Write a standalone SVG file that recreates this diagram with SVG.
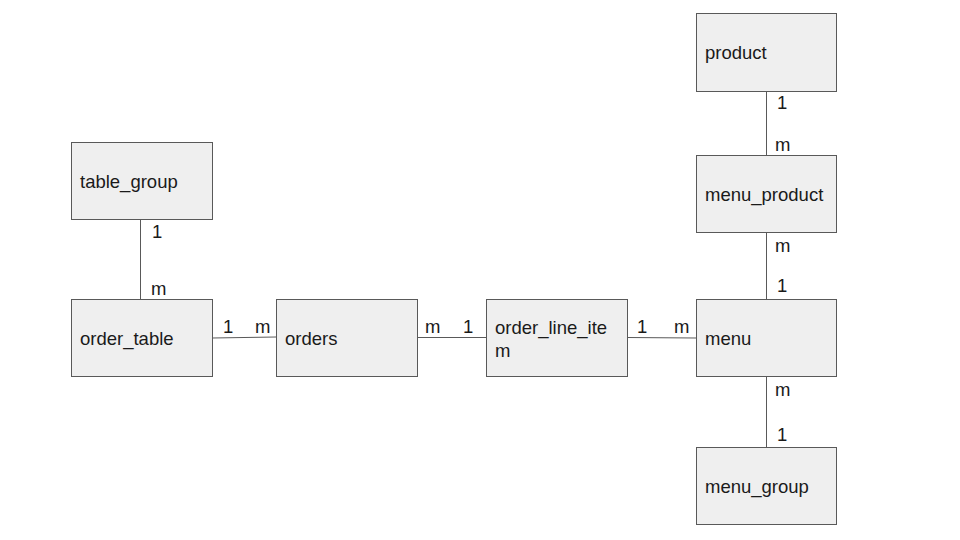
<svg xmlns="http://www.w3.org/2000/svg" width="960" height="540" viewBox="0 0 960 540">
<style>
.box{fill:#efefef;stroke:#595959;stroke-width:1}
.t{font-family:"Liberation Sans",Arial,sans-serif;font-size:18.5px;fill:#1a1a1a}
.c line{stroke:#595959;stroke-width:1}
</style>
<rect width="960" height="540" fill="#ffffff"/>
<g class="c" id="connectors">
<line x1="140.5" y1="219" x2="140.5" y2="299"/>
<line x1="212" y1="338" x2="276" y2="337"/>
<line x1="417" y1="337.5" x2="486" y2="337.5"/>
<line x1="627" y1="337.5" x2="696" y2="338"/>
<line x1="766.5" y1="91" x2="766.5" y2="155"/>
<line x1="766.5" y1="232" x2="766.5" y2="299"/>
<line x1="766.5" y1="376" x2="766.5" y2="447"/>
<text class="t" x="152" y="238">1</text>
<text class="t" x="151" y="295">m</text>
<text class="t" x="223" y="333">1</text>
<text class="t" x="255" y="333">m</text>
<text class="t" x="425" y="333">m</text>
<text class="t" x="463" y="333">1</text>
<text class="t" x="637" y="333">1</text>
<text class="t" x="674" y="333">m</text>
<text class="t" x="777" y="109">1</text>
<text class="t" x="775" y="151">m</text>
<text class="t" x="775" y="252">m</text>
<text class="t" x="777" y="292">1</text>
<text class="t" x="775" y="396">m</text>
<text class="t" x="777" y="441">1</text>
</g>
<g id="table_group"><rect class="box" x="71.5" y="142.5" width="141" height="77"/><text class="t" x="80" y="188">table_group</text></g>
<g id="order_table"><rect class="box" x="71.5" y="299.5" width="141" height="77"/><text class="t" x="80" y="345">order_table</text></g>
<g id="orders"><rect class="box" x="276.5" y="299.5" width="141" height="77"/><text class="t" x="285" y="345">orders</text></g>
<g id="order_line_item"><rect class="box" x="486.5" y="299.5" width="141" height="77"/><text class="t" x="495" y="334">order_line_ite</text><text class="t" x="495" y="357">m</text></g>
<g id="menu"><rect class="box" x="696.5" y="299.5" width="140" height="77"/><text class="t" x="705" y="345">menu</text></g>
<g id="product"><rect class="box" x="696.5" y="13.5" width="140" height="78"/><text class="t" x="705" y="59">product</text></g>
<g id="menu_product"><rect class="box" x="696.5" y="155.5" width="140" height="77"/><text class="t" x="705" y="201">menu_product</text></g>
<g id="menu_group"><rect class="box" x="696.5" y="447.5" width="140" height="77"/><text class="t" x="705" y="493">menu_group</text></g>
</svg>
